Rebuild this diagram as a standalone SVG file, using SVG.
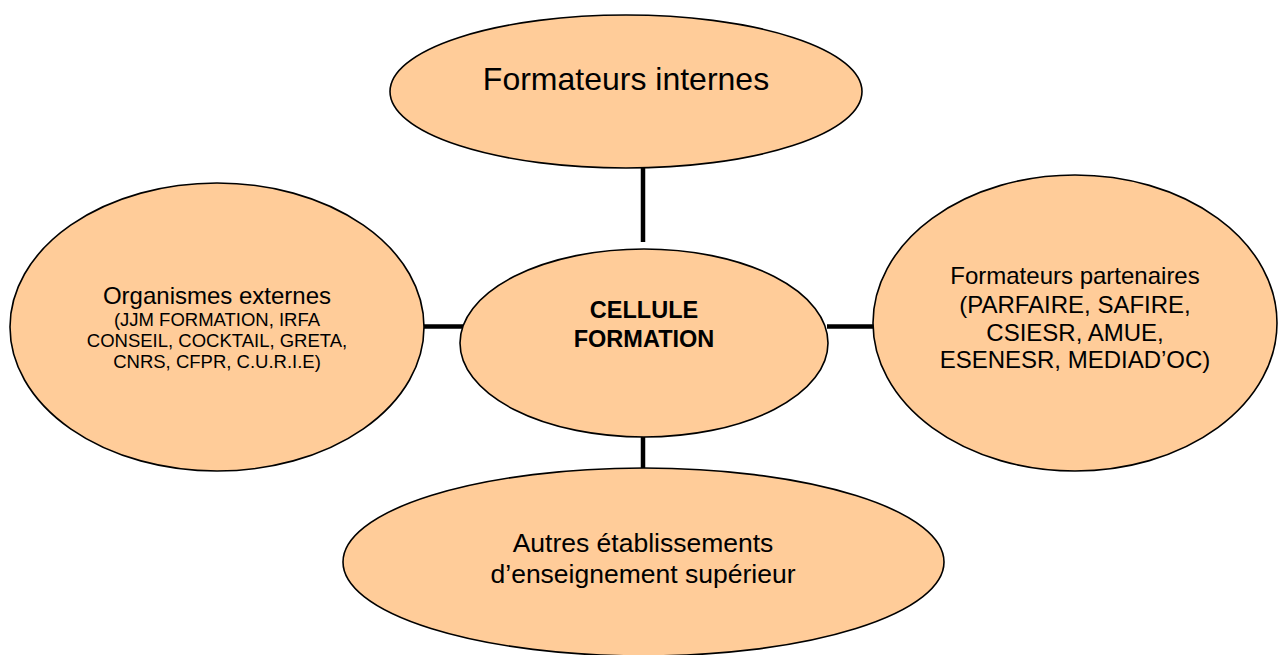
<svg xmlns="http://www.w3.org/2000/svg" width="1279" height="655" viewBox="0 0 1279 655">
<style>
.node ellipse{fill:#FFCC99;stroke:#000;stroke-width:1.6}
text{font-family:"Liberation Sans",Arial,sans-serif;fill:#000;text-anchor:middle}
.conn line{stroke:#000;stroke-width:4.5}
</style>
<rect width="1279" height="655" fill="#fff"/>
<g id="connectors" class="conn">
<line x1="643" y1="168" x2="643" y2="242"/>
<line x1="643" y1="437" x2="643" y2="469"/>
<line x1="423" y1="326.5" x2="463" y2="326.5"/>
<line x1="827" y1="326.5" x2="874" y2="326.5"/>
</g>
<g id="node-internes" class="node">
<ellipse cx="626" cy="91.5" rx="236" ry="76.5"/>
<text x="626" y="90" font-size="32">Formateurs internes</text>
</g>
<g id="node-externes" class="node">
<ellipse cx="217" cy="327" rx="207" ry="144"/>
<text x="217" y="303.5" font-size="24">Organismes externes</text>
<text x="217" y="325.5" font-size="18.5">(JJM FORMATION, IRFA</text>
<text x="217" y="346.5" font-size="18.5">CONSEIL, COCKTAIL, GRETA,</text>
<text x="217" y="367.5" font-size="18.5">CNRS, CFPR, C.U.R.I.E)</text>
</g>
<g id="node-partenaires" class="node">
<ellipse cx="1075" cy="323" rx="202" ry="148"/>
<text x="1075" y="284" font-size="24">Formateurs partenaires</text>
<text x="1075" y="312.5" font-size="24">(PARFAIRE, SAFIRE,</text>
<text x="1075" y="340.5" font-size="24">CSIESR, AMUE,</text>
<text x="1075" y="367.5" font-size="24">ESENESR, MEDIAD’OC)</text>
</g>
<g id="node-cellule" class="node">
<ellipse cx="644" cy="343" rx="184" ry="94"/>
<text x="644" y="318" font-size="23.5" font-weight="bold">CELLULE</text>
<text x="644" y="346.5" font-size="23.5" font-weight="bold">FORMATION</text>
</g>
<g id="node-autres" class="node">
<ellipse cx="643.5" cy="562" rx="300.5" ry="94"/>
<text x="643" y="551.5" font-size="26.5">Autres établissements</text>
<text x="643" y="582.5" font-size="26.5">d’enseignement supérieur</text>
</g>
</svg>
